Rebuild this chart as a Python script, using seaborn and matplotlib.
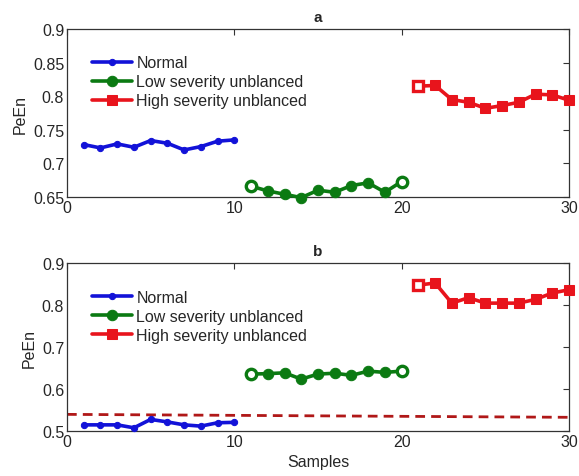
import matplotlib
matplotlib.use("Agg")
import matplotlib.pyplot as plt
import seaborn as sns
import pandas as pd
import numpy as np
from matplotlib.ticker import FormatStrFormatter

sns.set_style("white")
plt.rcParams['font.family'] = ['Liberation Sans', 'DejaVu Sans']

x_normal = list(range(1, 11))
x_low = list(range(11, 21))
x_high = list(range(21, 31))

a_normal = [0.728, 0.723, 0.729, 0.724, 0.734, 0.730, 0.720, 0.725, 0.733, 0.735]
a_low = [0.666, 0.659, 0.654, 0.649, 0.660, 0.657, 0.667, 0.671, 0.657, 0.673]
a_high = [0.815, 0.816, 0.795, 0.791, 0.782, 0.786, 0.791, 0.803, 0.802, 0.794]

b_normal = [0.515, 0.515, 0.515, 0.508, 0.528, 0.522, 0.515, 0.512, 0.520, 0.521]
b_low = [0.636, 0.637, 0.639, 0.624, 0.636, 0.638, 0.633, 0.643, 0.640, 0.643]
b_high = [0.848, 0.853, 0.805, 0.818, 0.805, 0.805, 0.805, 0.814, 0.829, 0.837]

thr_x = [0, 30]
thr_y = [0.540, 0.533]

labels = ["Normal", "Low severity unblanced", "High severity unblanced"]
colors = ["#1212d8", "#0b7a12", "#e8141c"]
markers = [".", "o", "s"]
msizes = [9, 7.5, 6.5]

fig = plt.figure(figsize=(5.79, 4.77), dpi=100)
ax1 = fig.add_axes([0.1157, 0.585, 0.867, 0.352])
ax2 = fig.add_axes([0.1157, 0.094, 0.867, 0.352])

def draw(ax, series, title, ylim, yticks):
    xs = [x_normal, x_low, x_high]
    for i, (xv, yv) in enumerate(zip(xs, series)):
        df = pd.DataFrame({"Samples": xv, "PeEn": yv})
        sns.lineplot(data=df, x="Samples", y="PeEn", ax=ax, color=colors[i],
                     marker=markers[i], markersize=msizes[i], linewidth=2.6,
                     markeredgecolor=colors[i], markerfacecolor=colors[i],
                     label=labels[i], clip_on=False, zorder=3)
    # hollow-looking end markers
    hol = [(x_low, series[1], 0, 1), (x_low, series[1], -1, 1), (x_high, series[2], 0, 2)]
    for xv, yv, idx, ci in hol:
        ax.plot([xv[idx]], [yv[idx]], marker=markers[ci], markersize=msizes[ci],
                markerfacecolor="white", markeredgecolor=colors[ci],
                markeredgewidth=2.4, linestyle="none", zorder=4)
    ax.set_xlim(0, 30)
    ax.set_ylim(*ylim)
    ax.set_xticks([0, 10, 20, 30])
    ax.set_yticks(yticks)
    ax.yaxis.set_major_formatter(FormatStrFormatter('%g'))
    ax.tick_params(direction="in", top=True, right=True, length=4, labelsize=11.5,
                   width=0.8, color="#333333", pad=2)
    for s in ax.spines.values():
        s.set_linewidth(0.9)
        s.set_color("#333333")
    ax.set_title(title, fontweight="bold", fontsize=11, pad=6)
    ax.set_ylabel("PeEn", fontsize=11.5)
    ax.legend(loc="upper left", frameon=False, fontsize=11.5,
              handlelength=2.5, handletextpad=0.3, labelspacing=0.25,
              borderaxespad=0.2, bbox_to_anchor=(0.03, 0.90))

draw(ax1, [a_normal, a_low, a_high], "a", (0.65, 0.9),
     [0.65, 0.7, 0.75, 0.8, 0.85, 0.9])
ax1.set_xlabel("")

sns.lineplot(x=thr_x, y=thr_y, ax=ax2, color="#b01818", linestyle=(0, (3.5, 2.2)),
             linewidth=2, legend=False)
draw(ax2, [b_normal, b_low, b_high], "b", (0.5, 0.9),
     [0.5, 0.6, 0.7, 0.8, 0.9])
ax2.set_xlabel("Samples", fontsize=11.5)

fig.savefig("out.png", dpi=100)
